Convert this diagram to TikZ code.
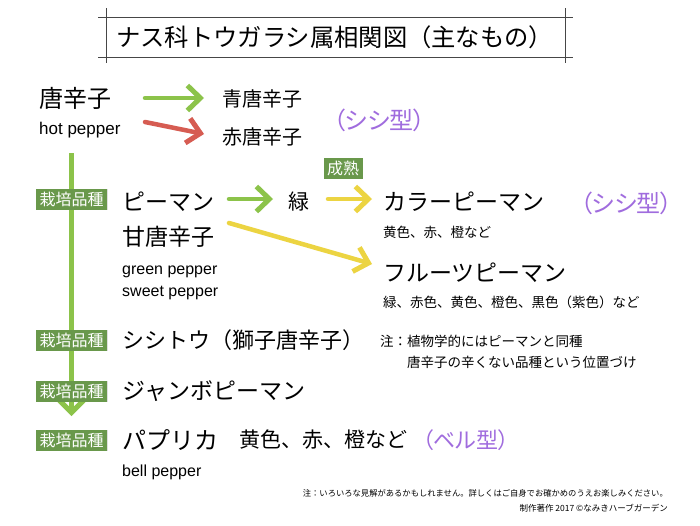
\documentclass[tikz,border=0pt]{standalone}
\usepackage{fontspec}
\setmainfont{Noto Sans CJK JP}
\newfontfamily\paltfont[RawFeature=+palt]{Noto Sans CJK JP}
\newfontfamily\latinfont{Liberation Sans}
\usetikzlibrary{arrows.meta,shadows}
\definecolor{tagg}{RGB}{105,152,75}
\definecolor{lineg}{RGB}{140,195,74}
\definecolor{redarr}{RGB}{214,92,82}
\definecolor{yelarr}{RGB}{236,212,66}
\definecolor{purp}{RGB}{160,108,222}
\definecolor{framec}{RGB}{70,70,70}
\tikzset{
  fz/.style={font=\fontsize{#1pt}{#1pt}\selectfont},
  txt/.style={anchor=west,inner sep=0pt,text=black},
  lat/.style={anchor=west,inner sep=0pt,font=\latinfont\fontsize{16pt}{16pt}\selectfont},
  tagbox/.style={fill=tagg,text=white,inner xsep=3.5pt,inner ysep=0pt,minimum height=21pt,
    font=\fontsize{16pt}{16pt}\selectfont,
    drop shadow={shadow xshift=0.8pt,shadow yshift=-0.8pt,opacity=0.25}},
  arr/.style={line width=4.5pt,draw=#1,line cap=round,
    -{Straight Barb[length=13pt,width=25pt,line width=5pt]}},
  frameline/.style={draw=framec,line width=0.8pt},
  purptxt/.style={anchor=west,inner sep=0pt,text=purp},
}
\begin{document}
\begin{tikzpicture}[x=1pt,y=-1pt]
\useasboundingbox[fill=white] (0,0) rectangle (700,525);
% title
\draw[frameline] (98,17.5) -- (573,17.5);
\draw[frameline] (98,57.5) -- (573,57.5);
\draw[frameline] (106,8) -- (106,63);
\draw[frameline] (565.5,8) -- (565.5,63);
\node[txt,fz=24.3] (title) at (116,37.5) {ナス科トウガラシ属相関図（主なもの）};

% top section
\node[txt,fz=24] (tou) at (39,98) {唐辛子};
\node[lat,font=\latinfont\fontsize{17pt}{17pt}\selectfont] (hot) at (39,130) {hot pepper};
\node[txt,fz=20] (ao) at (222,99) {青唐辛子};
\node[txt,fz=20] (aka) at (222,137) {赤唐辛子};
\node[purptxt,font=\paltfont\fontsize{24pt}{24pt}\selectfont] (shishi1) at (333,120) {（シシ型）};
\coordinate (g1s) at (145,98);
\coordinate (g1e) at (204,98);
\coordinate (r1s) at (145,122);
\coordinate (r1e) at (204,134);
\draw[arr=lineg] (g1s) -- (g1e);
\draw[arr=redarr] (r1s) -- (r1e);

% vertical green line
\coordinate (vtop) at (71.5,153);
\coordinate (vbot) at (71.5,416);
\draw[line width=5pt,draw=lineg,-{Straight Barb[length=12pt,width=24pt,line width=5pt]}] (vtop) -- (vbot);

% piman section
\node[tagbox] (tag1) at (71.5,199) {栽培品種};
\node[txt,fz=23] (piman) at (122,202) {ピーマン};
\node[txt,fz=23] (amatou) at (122,237) {甘唐辛子};
\node[lat] (gp) at (122,272) {green pepper};
\node[lat] (sp) at (122,293) {sweet pepper};
\node[txt,fz=21] (midori) at (288,202) {緑};
\node[tagbox] (seijuku) at (343,168) {成熟};
\node[txt,fz=23] (color) at (383,202) {カラーピーマン};
\node[purptxt,font=\paltfont\fontsize{24pt}{24pt}\selectfont] (shishi2) at (580,203) {（シシ型）};
\node[txt,fz=13.5] (colorsub) at (383,232) {黄色、赤、橙など};
\node[txt,fz=23] (fruit) at (383,273) {フルーツピーマン};
\node[txt,fz=13.5] (fruitsub) at (383,302) {緑、赤色、黄色、橙色、黒色（紫色）など};
\coordinate (g2s) at (229,199);
\coordinate (g2e) at (273,199);
\coordinate (y1s) at (328,199);
\coordinate (y1e) at (372,199);
\coordinate (y2s) at (229,223);
\coordinate (y2e) at (372,264);
\draw[arr=lineg] (g2s) -- (g2e);
\draw[arr=yelarr] (y1s) -- (y1e);
\draw[arr=yelarr] (y2s) -- (y2e);

% shishito
\node[tagbox] (tag2) at (71.5,340) {栽培品種};
\node[txt,fz=22] (shishito) at (122,340) {シシトウ（獅子唐辛子）};
\node[txt,fz=13.5] (note1) at (380,341) {注：植物学的にはピーマンと同種};
\node[txt,fz=13.5] (note2) at (407,362) {唐辛子の辛くない品種という位置づけ};

% jumbo
\node[tagbox] (tag3) at (71.5,391) {栽培品種};
\node[txt,fz=23] (jumbo) at (122,391) {ジャンボピーマン};

% paprika
\node[tagbox] (tag4) at (71.5,440) {栽培品種};
\node[txt,fz=24] (paprika) at (122,440) {パプリカ};
\node[txt,fz=21] (papsub) at (239,440) {黄色、赤、橙など};
\node[purptxt,font=\paltfont\fontsize{22pt}{22pt}\selectfont] (bell) at (422,440) {（ベル型）};
\node[lat] (bp) at (122,472) {bell pepper};

% footer
\node[anchor=east,inner sep=0pt,fz=8.3] (foot1) at (668,493) {注：いろいろな見解があるかもしれません。詳しくはご自身でお確かめのうえお楽しみください。};
\node[anchor=east,inner sep=0pt,fz=8.5] (foot2) at (668,508) {制作著作 2017 ©なみきハーブガーデン};
\end{tikzpicture}
\end{document}
